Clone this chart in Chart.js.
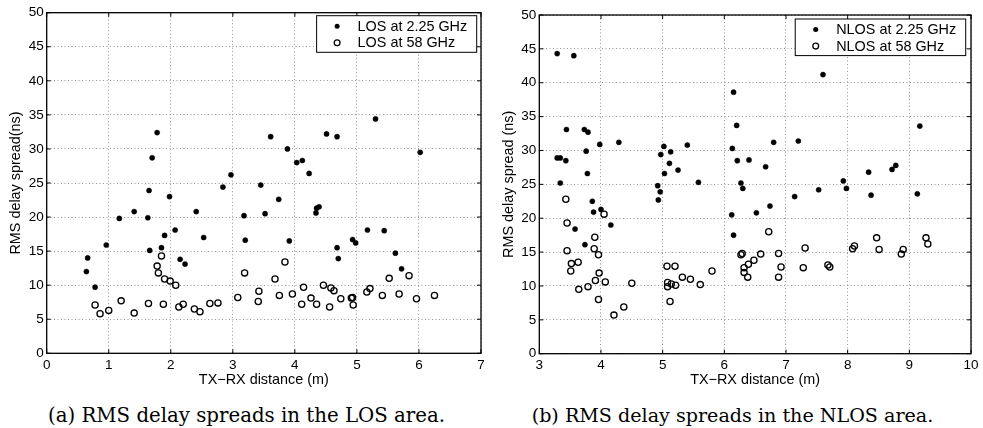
<!DOCTYPE html>
<html><head><meta charset="utf-8">
<script src="https://cdn.jsdelivr.net/npm/chart.js@4.4.1/dist/chart.umd.min.js"></script>
<style>
html,body{margin:0;padding:0;background:#fff;width:983px;height:428px;overflow:hidden;position:relative}
.wrap{position:absolute;top:0}
.cap{position:absolute;font-family:"DejaVu Serif",serif;white-space:nowrap;color:#000}
</style></head><body>
<div class="wrap" style="left:0px"><canvas id="c1" width="491" height="390"></canvas></div>
<div class="wrap" style="left:491px"><canvas id="c2" width="492" height="390"></canvas></div>
<div id="capA" class="cap">(a) RMS delay spreads in the LOS area.</div>
<div id="capB" class="cap">(b) RMS delay spreads in the NLOS area.</div>
<script>
// ---------- data ----------
const losDist225 = [0.64,0.66,0.78,0.96,1.17,1.41,1.65,1.63,1.66,1.85,1.90,1.98,2.07,2.15,2.23,2.41,2.53,2.84,3.18,3.20,1.78,1.70,2.97,3.61,3.45,3.74,3.88,4.03,4.12,4.23,4.51,4.68,5.30,6.02,3.52,3.91,4.34,4.35,4.39,5.17,5.44,4.68,4.70,4.93,4.98,5.62,5.72];
const losRms225  = [12.0,14.0,9.7,15.9,19.8,20.8,23.9,19.9,15.1,15.5,17.3,23.0,18.1,13.8,13.1,20.8,17.0,24.4,20.2,16.6,32.4,28.7,26.2,31.8,24.7,22.6,30.0,28.0,28.3,26.4,32.2,31.8,34.4,29.5,20.5,16.5,20.6,21.3,21.5,18.1,18.0,15.5,13.9,16.7,16.2,14.7,12.4];
const losDist58 = [0.78,0.86,1.00,1.20,1.41,1.64,1.78,1.80,1.85,1.88,1.90,1.99,2.08,2.13,2.20,2.38,2.47,2.63,2.76,3.08,3.19,3.41,3.42,3.68,3.75,3.84,3.96,4.11,4.14,4.26,4.35,4.46,4.56,4.58,4.63,4.74,4.91,4.93,4.94,5.16,5.21,5.41,5.52,5.68,5.84,5.96,6.25];
const losRms58  = [7.1,5.8,6.3,7.7,5.9,7.3,12.8,11.8,14.3,7.2,10.9,10.6,10.0,6.8,7.2,6.5,6.1,7.3,7.4,8.2,11.8,7.6,9.1,10.9,8.5,13.4,8.7,7.2,9.7,8.1,7.2,10.0,6.8,9.6,9.2,8.0,8.1,8.2,7.1,9.0,9.5,8.5,11.0,8.7,11.4,8.0,8.5];

const nlosDist225 = [3.29,3.56,3.44,3.73,3.79,3.76,3.98,4.29,3.29,3.34,3.43,3.78,3.34,3.86,3.88,4.00,4.16,3.58,3.74,4.92,4.96,4.93,5.02,4.97,5.13,5.11,5.03,5.25,5.40,5.58,6.15,6.20,6.13,6.21,6.27,6.30,6.12,6.15,6.40,6.67,6.80,6.52,6.74,7.20,7.14,7.53,7.60,7.93,7.98,8.34,8.38,8.72,8.78,9.13,9.17];
const nlosRms225  = [44.3,44.0,33.1,33.1,32.7,29.9,30.9,31.2,28.9,28.9,28.5,26.6,25.2,22.5,20.9,21.3,19.0,18.4,16.1,24.8,23.9,22.7,30.6,29.4,29.8,28.1,26.6,27.1,30.8,25.3,38.6,33.7,30.3,28.5,25.2,24.4,20.5,17.5,28.6,27.6,31.2,20.8,21.8,31.4,23.2,24.2,41.2,25.5,24.4,26.8,23.4,27.2,27.8,23.6,33.6];
const nlosDist58 = [3.43,3.45,3.45,3.52,3.51,3.63,3.64,3.79,3.90,3.89,3.91,3.96,3.97,3.96,4.05,4.07,4.21,4.37,4.50,5.07,5.20,5.08,5.08,5.14,5.21,5.12,5.32,5.45,5.61,5.80,6.27,6.29,6.32,6.32,6.39,6.38,6.48,6.59,6.72,6.88,6.92,6.88,7.28,7.31,7.68,7.71,8.08,8.11,8.47,8.51,8.87,8.90,9.27,9.30];
const nlosRms58  = [22.8,19.3,15.2,13.3,12.2,13.5,9.5,9.9,17.2,15.5,10.8,14.6,11.9,8.0,20.6,10.6,5.7,6.9,10.4,12.9,12.9,10.5,9.9,10.3,10.1,7.7,11.3,11.0,10.2,12.2,14.6,14.8,12.7,12.0,13.2,11.3,13.8,14.7,18.0,14.8,12.8,11.3,12.7,15.6,13.1,12.8,15.5,15.9,17.1,15.4,14.7,15.4,17.1,16.2];

const losLabels  = ['LOS at 2.25 GHz','LOS at 58 GHz'];
const nlosLabels = ['NLOS at 2.25 GHz','NLOS at 58 GHz'];
const yAxisTitles = ['RMS delay spread(ns)','RMS delay spread (ns)'];
const xAxisTitle = 'TX\u2212RX distance (m)';

// ---------- helpers ----------
const SANS = '"Liberation Sans", Arial, Helvetica, sans-serif';
const pts = (xs, ys) => xs.map((x, i) => ({x, y: ys[i]}));

function filledSet(label, xs, ys) {
  return {label, data: pts(xs, ys), pointStyle: 'circle', pointRadius: 2.6,
    backgroundColor: '#000', borderColor: '#000', borderWidth: 0.4, showLine: false, kind: 'filled'};
}
function openSet(label, xs, ys) {
  return {label, data: pts(xs, ys), pointStyle: 'circle', pointRadius: 3.1,
    backgroundColor: 'rgba(0,0,0,0)', borderColor: '#000', borderWidth: 1.3, showLine: false, kind: 'open'};
}

const framePlugin = {
  id: 'frame',
  afterDraw(chart, args, o) {
    const {ctx, chartArea: a, scales} = chart;
    ctx.save();
    // inner tick marks
    ctx.strokeStyle = '#000'; ctx.lineWidth = 1;
    const tl = 4;
    ctx.beginPath();
    scales.x.ticks.forEach(t => {
      const px = scales.x.getPixelForValue(t.value);
      ctx.moveTo(px, a.bottom); ctx.lineTo(px, a.bottom - tl);
      ctx.moveTo(px, a.top); ctx.lineTo(px, a.top + tl);
    });
    scales.y.ticks.forEach(t => {
      const py = scales.y.getPixelForValue(t.value);
      ctx.moveTo(a.left, py); ctx.lineTo(a.left + tl, py);
      ctx.moveTo(a.right, py); ctx.lineTo(a.right - tl, py);
    });
    ctx.stroke();
    // frame
    ctx.lineWidth = 1.3;
    ctx.strokeRect(a.left, a.top, a.right - a.left, a.bottom - a.top);
    // legend
    ctx.font = '14.4px ' + SANS;
    const sets = chart.data.datasets;
    const tw = Math.max(...sets.map(d => ctx.measureText(d.label).width));
    const w = 41 + tw + 9.5, h = 36.6;
    const lx = a.right - o.rightGap - w, ly = a.top + o.topGap;
    ctx.fillStyle = '#fff';
    ctx.fillRect(lx, ly, w, h);
    ctx.lineWidth = 1; ctx.strokeStyle = '#000';
    ctx.strokeRect(lx, ly, w, h);
    sets.forEach((d, i) => {
      const ry = ly + 10.5 + i * 16.6;
      const mx = lx + 20.5;
      ctx.beginPath();
      if (d.kind === 'filled') {
        ctx.arc(mx, ry, 2.5, 0, Math.PI * 2); ctx.fillStyle = '#000'; ctx.fill();
      } else {
        ctx.arc(mx, ry, 2.9, 0, Math.PI * 2); ctx.lineWidth = 1.3; ctx.stroke();
      }
      ctx.fillStyle = '#000'; ctx.textBaseline = 'middle'; ctx.textAlign = 'left';
      ctx.fillText(d.label, lx + 41, ry + 0.5);
    });
    ctx.restore();
  }
};

function makeChart(id, datasets, xmin, xmax, yTitle, cfg) {
  return new Chart(document.getElementById(id), {
    type: 'scatter',
    data: {datasets},
    plugins: [framePlugin],
    options: {
      responsive: false, animation: false,
      layout: {padding: {top: cfg.top, right: cfg.right, left: 0, bottom: 0}},
      plugins: {legend: {display: false}, tooltip: {enabled: false},
        frame: {rightGap: cfg.legRight, topGap: cfg.legTop}},
      scales: {
        x: {type: 'linear', min: xmin, max: xmax,
          ticks: {stepSize: 1, color: '#000', padding: 3.5, font: {family: SANS, size: 13.5}, maxRotation: 0},
          grid: {color: '#8a8a8a', lineWidth: 0.9, drawTicks: false},
          border: {display: false, dash: [1, 2.5]},
          title: {display: true, text: xAxisTitle, color: '#000', font: {family: SANS, size: 14.4},
            padding: {top: 0, bottom: 1.4}},
          afterFit: s => { s.height = cfg.xh; }
        },
        y: {type: 'linear', min: 0, max: 50,
          ticks: {stepSize: 5, color: '#000', padding: 3, font: {family: SANS, size: 13.5}},
          grid: {color: '#8a8a8a', lineWidth: 0.9, drawTicks: false},
          border: {display: false, dash: [1, 2.5]},
          title: {display: true, text: yTitle, color: '#000', font: {family: SANS, size: 14.4},
            padding: {top: cfg.ytp, bottom: 0}},
          afterFit: s => { s.width = cfg.yw; }
        }
      }
    }
  });
}

makeChart('c1', [filledSet(losLabels[0], losDist225, losRms225), openSet(losLabels[1], losDist58, losRms58)],
  0, 7, yAxisTitles[0], {top: 12.7, right: 10, xh: 36.7, yw: 46.7, ytp: 7.4, legRight: 4.3, legTop: 3});
makeChart('c2', [filledSet(nlosLabels[0], nlosDist225, nlosRms225), openSet(nlosLabels[1], nlosDist58, nlosRms58)],
  3, 10, yAxisTitles[1], {top: 15, right: 12, xh: 36.3, yw: 48.3, ytp: 9.4, legRight: 5.3, legTop: 4});

// captions sized to the reference widths
function placeCap(id, center, width, midY) {
  const el = document.getElementById(id);
  el.style.fontSize = '18px';
  const w = el.getBoundingClientRect().width;
  const fs = 18 * width / w;
  el.style.fontSize = fs.toFixed(2) + 'px';
  el.style.lineHeight = '1';
  const r = el.getBoundingClientRect();
  el.style.left = (center - r.width / 2) + 'px';
  el.style.top = (midY - r.height / 2) + 'px';
}
placeCap('capA', 246.5, 397, 416);
placeCap('capB', 732.5, 401.7, 416);
</script>
</body></html>
